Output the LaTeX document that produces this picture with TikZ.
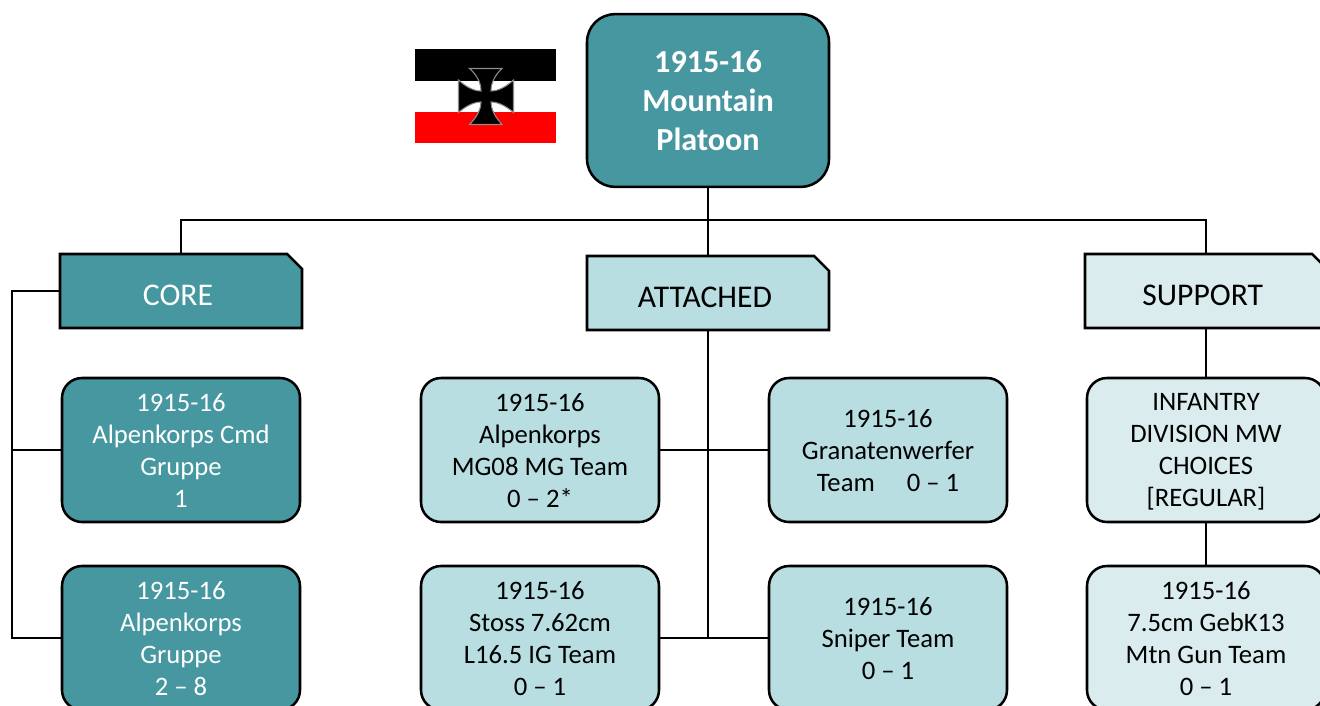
\documentclass[tikz,border=0pt]{standalone}
\usepackage{fontspec}
\setmainfont{Carlito}
\usetikzlibrary{positioning,shapes.misc}

\definecolor{tealdark}{HTML}{46979F}
\definecolor{teallight}{HTML}{B9DEE1}
\definecolor{tealpale}{HTML}{DAECED}

\begin{document}
\begin{tikzpicture}[
  x=.75pt, y=-.75pt,
  node distance=33pt and 82.5pt,
  base/.style={draw, line width=1.9pt, align=center, outer sep=0pt, inner sep=0pt},
  unit/.style={base, rounded corners=15pt, minimum width=178.5pt, minimum height=108pt, text depth=-2.2pt, font=\fontsize{20}{24}\selectfont},
  head/.style={base, chamfered rectangle, chamfered rectangle corners=north east, chamfered rectangle angle=45, chamfered rectangle xsep=8pt, minimum width=181.5pt, minimum height=55.5pt, text height=21pt, text depth=0pt, font=\fontsize{23.7}{26}\selectfont},
  dark/.style={fill=tealdark, text=white},
  light/.style={fill=teallight},
  pale/.style={fill=tealpale},
  link/.style={line width=2pt}
]
  \useasboundingbox (0,0) rectangle (1320,706);
  \clip (0,0) rectangle (1320,706);

  % flag
  \fill[black] (415,49) rectangle (556,81);
  \fill[white] (415,81) rectangle (556,112);
  \fill[red] (415,112) rectangle (556,143);
  \draw[black!45, line width=.8pt, fill=black] (469.5,68.5) .. controls (478,76) and (481,84) .. (481,91)
    .. controls (474,91) and (466,87) .. (458.5,80) -- (458.5,112.5)
    .. controls (466,106) and (474,102) .. (481,102) .. controls (481,108) and (478,116) .. (469.5,124.5)
    -- (502,124.5) .. controls (494,116) and (491,108) .. (491,102)
    .. controls (498,102) and (506,106) .. (513.5,112.5) -- (513.5,80)
    .. controls (506,87) and (498,91) .. (491,91) .. controls (491,84) and (494,76) .. (502,68.5) -- cycle;

  \node[base, dark, rounded corners=21pt, minimum width=181.5pt, minimum height=129.5pt, text depth=-3pt, font=\fontsize{24.1}{29}\selectfont\bfseries] (platoon) at (708,100.5) {1915-16\\Mountain\\Platoon};

  \node[head, dark] (core) at (181,291) {CORE\hspace{4.5pt}};
  \node[head, light] (attached) at (708,293) {ATTACHED\hspace{4.5pt}};
  \node[head, pale] (support) at (1206,291) {SUPPORT\hspace{5pt}};

  \node[unit, dark] (cmd) at (181,450) {1915-16\\Alpenkorps Cmd\\Gruppe\\1};
  \node[unit, dark, below=of cmd] (gruppe) {1915-16\\Alpenkorps\\Gruppe\\2 – 8};

  \node[unit, light] (mg) at (540,450) {1915-16\\Alpenkorps\\MG08 MG Team\\0 – 2*};
  \node[unit, light, right=of mg] (granat) {1915-16\\Granatenwerfer\\Team\hspace{1.2em}0 – 1};
  \node[unit, light, below=of mg] (stoss) {1915-16\\Stoss 7.62cm\\L16.5 IG Team\\0 – 1};
  \node[unit, light, below=of granat] (sniper) {1915-16\\Sniper Team\\0 – 1};

  \node[unit, pale] (infantry) at (1206,450) {INFANTRY\\DIVISION MW\\CHOICES\\{[REGULAR]}};
  \node[unit, pale, below=of infantry] (gun) {1915-16\\7.5cm GebK13\\Mtn Gun Team\\0 – 1};

  \coordinate (bus) at (708,220);
  \coordinate (corebus) at (12,291);
  \coordinate (attbus) at (attached.south |- stoss.east);

  \draw[link, xshift=.4pt] (platoon.south) -- (bus);
  \draw[link] (core.north) |- (bus) -| (support.north);
  \draw[link] (attached.north) -- (attached.north |- bus);
  \draw[link] (core.west) -- (corebus) |- (gruppe.west);
  \draw[link] (cmd.west) -- (cmd.west -| corebus);
  \draw[link, xshift=.75pt] (attached.south) -- (attbus);
  \draw[link] (mg.east) -- (granat.west);
  \draw[link] (stoss.east) -- (sniper.west);
  \draw[link] (support.south) -- (infantry.north);
  \draw[link] (infantry.south) -- (gun.north);
\end{tikzpicture}
\end{document}
